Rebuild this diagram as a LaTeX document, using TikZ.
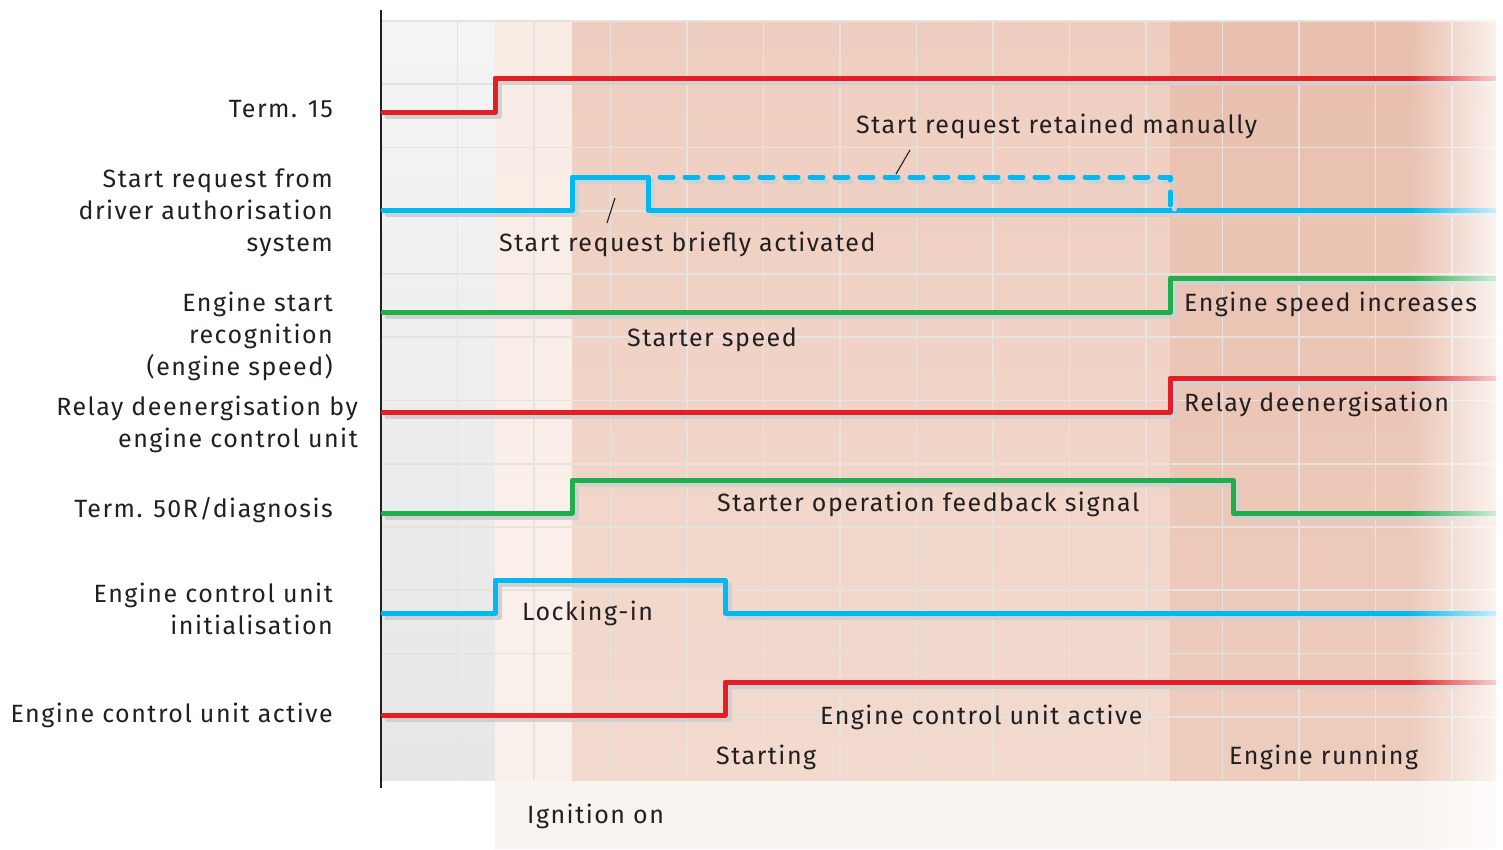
\documentclass[tikz,border=0pt]{standalone}
\usepackage{fontspec}
\setmainfont{Fira Sans}[LetterSpace=6]
\usetikzlibrary{fadings}
\definecolor{txt}{HTML}{231F20}
\definecolor{sred}{HTML}{E31E24}
\definecolor{sblue}{HTML}{00B9F2}
\definecolor{sgreen}{HTML}{1FAE4B}
\definecolor{shad}{HTML}{D0D0D0}
\definecolor{gridc}{HTML}{E8E2DF}
\definecolor{grayT}{HTML}{FBFBFB}
\definecolor{grayB}{HTML}{DFE0E2}
\definecolor{lpT}{HTML}{F9E9E2}
\definecolor{lpB}{HTML}{FAF3EE}
\definecolor{mpT}{HTML}{ECC8B8}
\definecolor{mpB}{HTML}{F5E0D6}
\definecolor{dpT}{HTML}{E6B8A5}
\definecolor{dpB}{HTML}{F0D4C7}
\definecolor{band}{HTML}{FAF4F0}
\pgfdeclareverticalshading{shGray}{100bp}{color(0bp)=(grayB); color(100bp)=(grayT)}
\pgfdeclareverticalshading{shLight}{100bp}{color(0bp)=(lpB); color(100bp)=(lpT)}
\pgfdeclareverticalshading{shMid}{100bp}{color(0bp)=(mpB); color(100bp)=(mpT)}
\pgfdeclareverticalshading{shDark}{100bp}{color(0bp)=(dpB); color(100bp)=(dpT)}
\tikzfading[name=fadeR, left color=transparent!100, right color=transparent!0]
\tikzset{
  sig/.style={line width=5pt, line cap=round, line join=round},
  sigdash/.style={sig, dash pattern=on 13pt off 12pt},
  lbl/.style={text=txt, font=\fontsize{25}{32}\selectfont, inner sep=0pt},
  lleft/.style={lbl, anchor=base east},
  lin/.style={lbl, anchor=base west},
  leader/.style={draw=txt, line width=1.1pt},
  gridline/.style={draw=gridc, line width=1.6pt}
}
\newcommand\wave[2]{\draw[sig, shad, shift={(4,4)}] #2; \draw[sig, #1] #2;}
\begin{document}
\begin{tikzpicture}[x=1pt,y=-1pt]
\useasboundingbox (0,0) rectangle (1503,849);
% backgrounds
\fill[band] (495,780) rectangle (1500,849);
\shade[shading=shGray] (381,21) rectangle (495,780);
\shade[shading=shLight] (495,21) rectangle (572,780);
\shade[shading=shMid] (572,21) rectangle (1170,780);
\shade[shading=shDark] (1170,21) rectangle (1500,780);
% grid
\foreach \k in {1,...,14} \draw[gridline] ({381+76.5*\k},21) -- ({381+76.5*\k},780);
\foreach \k in {0,...,11} \draw[gridline] (381,{21+63.25*\k}) -- (1500,{21+63.25*\k});
% axis
\draw[txt, line width=2pt] (381,10) -- (381,788);
% waveforms
\wave{sred}{(383,112) -- (495,112) -- (495,78) -- (1495,78)}
\wave{sblue}{(383,210) -- (572,210) -- (572,177) -- (648,177) -- (648,210) -- (1495,210)}
\draw[sigdash, shad, shift={(4,4)}] (660,177) -- (1170,177) -- (1170,210);
\draw[sigdash, sblue] (660,177) -- (1170,177) -- (1170,210);
\wave{sgreen}{(383,312) -- (1170,312) -- (1170,278) -- (1495,278)}
\wave{sred}{(383,412) -- (1170,412) -- (1170,378) -- (1495,378)}
\wave{sgreen}{(383,513) -- (572,513) -- (572,480) -- (1233,480) -- (1233,513) -- (1495,513)}
\wave{sblue}{(383,613) -- (495,613) -- (495,580) -- (725,580) -- (725,613) -- (1495,613)}
\wave{sred}{(383,715) -- (725,715) -- (725,682) -- (1495,682)}
% right fade
\fill[white, path fading=fadeR] (1410,0) rectangle (1520,849);
\fill[white] (1496,0) rectangle (1503,849);
% leaders
\coordinate (r1) at (910,150); \coordinate (r2) at (896,174);
\coordinate (b1) at (615,198); \coordinate (b2) at (607,223);
\draw[leader] (r1) -- (r2);
\draw[leader] (b1) -- (b2);
% left labels
\node[lleft] (t15) at (333,117) {Term. 15};
\node[lleft] (sr1) at (333,187) {Start request from};
\node[lleft] (sr2) at (333,219) {driver authorisation};
\node[lleft] (sr3) at (333,251) {system};
\node[lleft] (es1) at (333,311) {Engine start};
\node[lleft] (es2) at (333,343) {recognition};
\node[lleft] (es3) at (333,375) {(engine speed)};
\node[lleft] (rd1) at (358,415) {Relay deenergisation by};
\node[lleft] (rd2) at (358,447) {engine control unit};
\node[lleft] (t50) at (333,517) {Term. 50R/diagnosis};
\node[lleft] (ei1) at (333,602) {Engine control unit};
\node[lleft] (ei2) at (333,634) {initialisation};
\node[lleft] (ea) at (333,722) {Engine control unit active};
% inner labels
\node[lin] (rm) at (856,133) {Start request retained manually};
\node[lin] (ba) at (499,251) {Start request briefly activated};
\node[lin] (esi) at (1184,311) {Engine speed increases};
\node[lin] (ss) at (627,346) {Starter speed};
\node[lin] (rde) at (1184,411) {Relay deenergisation};
\node[lin] (sof) at (717,511) {Starter operation feedback signal};
\node[lin] (li) at (522,620) {Locking-in};
\node[lin] (eca) at (820,724) {Engine control unit active};
\node[lin] (st) at (716,764) {Starting};
\node[lin] (er) at (1229,764) {Engine running};
\node[lin] (io) at (527,823) {Ignition on};
\end{tikzpicture}
\end{document}
